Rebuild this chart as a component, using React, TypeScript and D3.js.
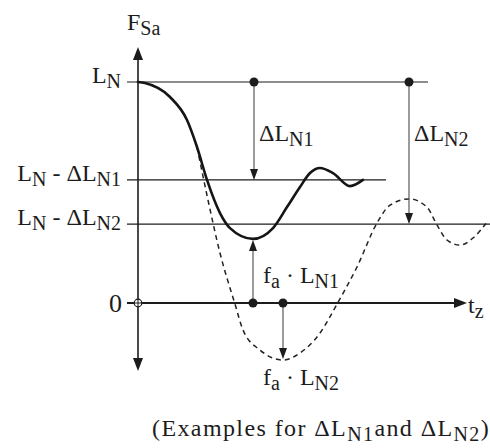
import React from "react";
import * as d3 from "d3";

// Force curves over time (t in arbitrary units, F normalised so L_N = 1)
const solidT = [0, 0.7, 3.2, 4.9, 5.9, 6.9, 8.2, 9.2, 11.5, 13.5, 14.9, 16.2, 17.2, 18.2, 19.5, 21.2, 22.5];
const solidF = [1.0, 0.995, 0.932, 0.828, 0.706, 0.557, 0.407, 0.339, 0.29, 0.339, 0.434, 0.525, 0.588, 0.611, 0.588, 0.529, 0.557];

const dashedT = [5.9, 7.0, 8.2, 9.7, 10.5, 12.2, 14.5, 16.2, 18.2, 19.9, 21.9, 23.9, 25.2, 27.1, 28.9, 29.9, 30.9, 32.2, 33.5, 34.8];
const dashedF = [0.706, 0.466, 0.226, -0.005, -0.122, -0.213, -0.258, -0.226, -0.136, -0.005, 0.163, 0.362, 0.443, 0.471, 0.434, 0.353, 0.285, 0.262, 0.294, 0.36];

// Reference levels: L_N, L_N - ΔL_N1, L_N - ΔL_N2
const levelNames = ["LN", "LN1", "LN2"];
const levelValues = [1, 0.557, 0.357];
const levelEndT = [29, 24.8, 35.5];

// Annotation positions (t) and values
const deltaN1T = 11.6;
const deltaN2T = 27.1;
const faN1T = 11.5;
const faN2T = 14.5;
const faN1Value = 0.29;
const faN2Value = -0.258;

const W = 490;
const H = 448;

const x = d3.scaleLinear().domain([0, 35]).range([138, 488]);
const y = d3.scaleLinear().domain([0, 1]).range([303, 82]);

const FONT = "'Liberation Serif', 'Times New Roman', serif";
const INK = "#1c1c1c";
const GREY = "#4a4a4a";

function zip(ts: number[], fs: number[]): [number, number][] {
  return ts.map((t, i) => [t, fs[i]]);
}

const line = d3
  .line<[number, number]>()
  .x((d) => x(d[0]))
  .y((d) => y(d[1]))
  .curve(d3.curveMonotoneX);

function arrowHead(tipX: number, tipY: number, dir: "up" | "down" | "right", len: number, half: number) {
  if (dir === "down") return `M${tipX},${tipY} L${tipX - half},${tipY - len} L${tipX + half},${tipY - len} Z`;
  if (dir === "up") return `M${tipX},${tipY} L${tipX - half},${tipY + len} L${tipX + half},${tipY + len} Z`;
  return `M${tipX},${tipY} L${tipX - len},${tipY - half} L${tipX - len},${tipY + half} Z`;
}

// Label with subscripts; each part is [text, isSubscript]
function Label({
  parts,
  px,
  py,
  anchor = "start",
  size = 24,
  subSize = 20,
  spacing = 0,
}: {
  parts: [string, boolean][];
  px: number;
  py: number;
  anchor?: "start" | "end" | "middle";
  size?: number;
  subSize?: number;
  spacing?: number;
}) {
  let prevSub = false;
  return (
    <text x={px} y={py} fontFamily={FONT} fontSize={size} fill={INK} textAnchor={anchor} letterSpacing={spacing}>
      {parts.map(([s, sub], i) => {
        const dy = sub && !prevSub ? 5 : !sub && prevSub ? -5 : 0;
        prevSub = sub;
        return (
          <tspan key={i} dy={dy} fontSize={sub ? subSize : size}>
            {s}
          </tspan>
        );
      })}
    </text>
  );
}

export default function App() {
  const x0 = x(0);
  const y0 = y(0);
  const axisTop = 47;
  const axisBottom = 371;
  const xAxisEnd = x(32.9);

  const solidPath = line(zip(solidT, solidF)) || "";
  const dashedPath = line(zip(dashedT, dashedF)) || "";

  const levelLabels: [string, boolean][][] = [
    [["L", false], ["N", true]],
    [["L", false], ["N", true], [" - ΔL", false], ["N1", true]],
    [["L", false], ["N", true], [" - ΔL", false], ["N2", true]],
  ];

  return (
    <svg
      width={W}
      height={H}
      viewBox={`0 0 ${W} ${H}`}
      style={{ position: "fixed", left: 0, top: 0, background: "#fff" }}
    >
      <rect width={W} height={H} fill="#fff" />

      {/* reference levels */}
      {levelValues.map((v, i) => (
        <line
          key={levelNames[i]}
          x1={x0 - 11}
          x2={x(levelEndT[i])}
          y1={y(v)}
          y2={y(v)}
          stroke={INK}
          strokeWidth={1.1}
        />
      ))}
      {levelValues.map((v, i) => (
        <Label key={"l" + i} parts={levelLabels[i]} px={121} py={y(v) + 1} anchor="end" />
      ))}

      {/* axes */}
      <line x1={x0} x2={x0} y1={axisTop + 10} y2={axisBottom - 10} stroke={INK} strokeWidth={1.6} />
      <path d={arrowHead(x0, axisTop, "up", 13, 5)} fill={INK} />
      <path d={arrowHead(x0, axisBottom, "down", 13, 5)} fill={INK} />
      <line x1={x0 - 11} x2={xAxisEnd - 10} y1={y0} y2={y0} stroke={INK} strokeWidth={2} />
      <path d={arrowHead(xAxisEnd, y0, "right", 13, 5)} fill={INK} />
      <circle cx={x0} cy={y0} r={3.8} fill="#fff" stroke={INK} strokeWidth={1.2} />
      <line x1={x0 - 3.8} x2={x0 + 3.8} y1={y0} y2={y0} stroke={INK} strokeWidth={1} />
      <line x1={x0} x2={x0} y1={y0 - 3.8} y2={y0 + 3.8} stroke={INK} strokeWidth={1} />

      {/* axis labels */}
      <Label parts={[["F", false], ["Sa", true]]} px={127} py={30} />
      <Label parts={[["t", false], ["z", true]]} px={468} py={313} />
      <text x={122} y={y0 + 9} fontFamily={FONT} fontSize={26} fill={INK} textAnchor="end">
        0
      </text>

      {/* curves */}
      <path d={dashedPath} fill="none" stroke="#222" strokeWidth={1.5} strokeDasharray="5,4" />
      <path d={solidPath} fill="none" stroke="#151515" strokeWidth={2.6} strokeLinecap="round" />

      {/* ΔL_N1 */}
      <line x1={x(deltaN1T)} x2={x(deltaN1T)} y1={y(levelValues[0])} y2={y(levelValues[1]) - 10} stroke={GREY} strokeWidth={1.1} />
      <path d={arrowHead(x(deltaN1T), y(levelValues[1]), "down", 11, 4)} fill={INK} />
      <circle cx={x(deltaN1T)} cy={y(levelValues[0])} r={4.5} fill={INK} />
      <Label parts={[["ΔL", false], ["N1", true]]} px={259} py={141} />

      {/* ΔL_N2 */}
      <line x1={x(deltaN2T)} x2={x(deltaN2T)} y1={y(levelValues[0])} y2={y(levelValues[2]) - 10} stroke={GREY} strokeWidth={1.1} />
      <path d={arrowHead(x(deltaN2T), y(levelValues[2]), "down", 11, 4)} fill={INK} />
      <circle cx={x(deltaN2T)} cy={y(levelValues[0])} r={4.5} fill={INK} />
      <Label parts={[["ΔL", false], ["N2", true]]} px={414} py={141} />

      {/* f_a · L_N1 */}
      <line x1={x(faN1T)} x2={x(faN1T)} y1={y0} y2={y(faN1Value) + 10} stroke={GREY} strokeWidth={1.1} />
      <path d={arrowHead(x(faN1T), y(faN1Value) + 1, "up", 11, 4)} fill={INK} />
      <circle cx={x(faN1T)} cy={y0} r={4.5} fill={INK} />
      <Label parts={[["f", false], ["a", true], [" · L", false], ["N1", true]]} px={263} py={283} />

      {/* f_a · L_N2 */}
      <line x1={x(faN2T)} x2={x(faN2T)} y1={y0} y2={y(faN2Value) - 10} stroke={GREY} strokeWidth={1.1} />
      <path d={arrowHead(x(faN2T), y(faN2Value) - 1, "down", 11, 4)} fill={INK} />
      <circle cx={x(faN2T)} cy={y0} r={4.5} fill={INK} />
      <Label parts={[["f", false], ["a", true], [" · L", false], ["N2", true]]} px={263} py={385} />

      {/* caption */}
      <Label
        parts={[
          ["(Examples for ΔL", false],
          ["N1", true],
          ["and ΔL", false],
          ["N2", true],
          [")", false],
        ]}
        px={152}
        py={436}
        spacing={1.4}
      />
    </svg>
  );
}
